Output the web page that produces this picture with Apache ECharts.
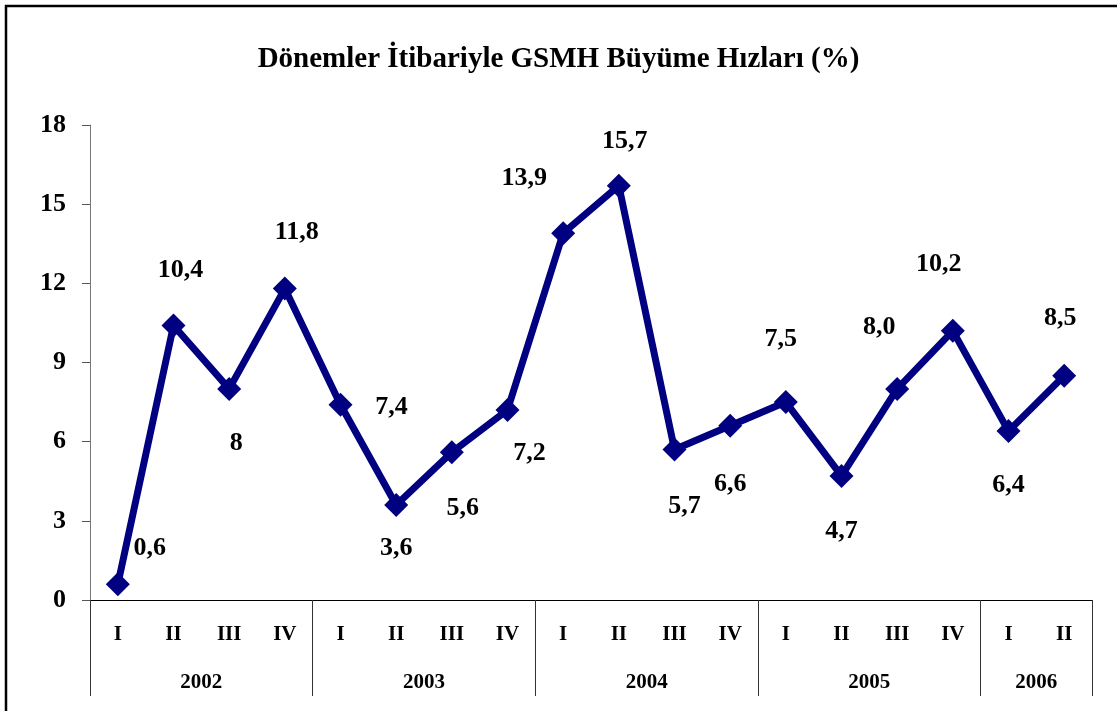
<!DOCTYPE html>
<html>
<head>
<meta charset="utf-8">
<script src="https://cdn.jsdelivr.net/npm/echarts@6/dist/echarts.min.js"></script>
<style>
  html, body { margin: 0; padding: 0; background: #fff; }
  #chart { width: 1117px; height: 711px; }
</style>
</head>
<body>
<div id="chart"></div>
<script>
// quarterly GNP growth rates, 2002 Q1 .. 2006 Q2
const quarters = ['I', 'II', 'III', 'IV', 'I', 'II', 'III', 'IV', 'I', 'II', 'III', 'IV', 'I', 'II', 'III', 'IV', 'I', 'II'];
const growth = [0.6, 10.4, 8, 11.8, 7.4, 3.6, 5.6, 7.2, 13.9, 15.7, 5.7, 6.6, 7.5, 4.7, 8.0, 10.2, 6.4, 8.5];
const valueLabels = ['0,6', '10,4', '8', '11,8', '7,4', '3,6', '5,6', '7,2', '13,9', '15,7', '5,7', '6,6', '7,5', '4,7', '8,0', '10,2', '6,4', '8,5'];
const years = ['2002', '2003', '2004', '2005', '2006'];
const yearSpans = [4, 4, 4, 4, 2];
const yTicks = [0, 3, 6, 9, 12, 15, 18];

// label offsets from each marker (px)
const labelOffsets = [
  [32, -36], [7, -55], [7, 54], [12, -56], [51, 3], [0, 43], [11, 56], [22, 43], [-39, -55],
  [6, -44], [10, 57], [0, 58], [-5, -63], [0, 55], [-18, -62], [-14, -67], [0, 54], [-4, -57]
];

const yearBounds = [0];
const yearCenters = [];
yearSpans.forEach((s, i) => {
  yearCenters.push(yearBounds[i] + s / 2);
  yearBounds.push(yearBounds[i] + s);
});

const font = '"Liberation Serif", "Times New Roman", serif';
const chart = echarts.init(document.getElementById('chart'));

chart.setOption({
  animation: false,
  title: {
    text: 'Dönemler İtibariyle GSMH Büyüme Hızları (%)',
    left: 'center',
    top: 40,
    textStyle: { fontFamily: font, fontSize: 29, fontWeight: 'bold', color: '#000' }
  },
  graphic: [
    { type: 'line', shape: { x1: 5, y1: 6, x2: 1117, y2: 6 }, style: { stroke: '#000', lineWidth: 2.5 } },
    { type: 'line', shape: { x1: 6, y1: 5, x2: 6, y2: 711 }, style: { stroke: '#000', lineWidth: 2.5 } }
  ],
  grid: { left: 90, right: 25, top: 125, bottom: 111 },
  xAxis: [
    {
      type: 'category',
      data: quarters,
      boundaryGap: true,
      axisLine: { lineStyle: { color: '#000', width: 1 } },
      axisTick: { interval: 0, length: 50, lineStyle: { color: '#333' } },
      axisLabel: {
        interval: 0, margin: 24,
        fontFamily: font, fontSize: 21, fontWeight: 'bold', color: '#000'
      }
    },
    {
      type: 'value',
      min: 0,
      max: 18,
      position: 'bottom',
      axisLine: { show: false },
      splitLine: { show: false },
      axisTick: { show: true, length: 96, customValues: yearBounds, lineStyle: { color: '#333' } },
      axisLabel: {
        margin: 72,
        customValues: yearCenters,
        formatter: (v) => years[yearCenters.indexOf(v)] || '',
        fontFamily: font, fontSize: 21, fontWeight: 'bold', color: '#000'
      }
    }
  ],
  yAxis: {
    type: 'value',
    min: 0,
    max: 18,
    interval: 3,
    axisLine: { show: true, lineStyle: { color: '#777' } },
    axisTick: { show: true, length: 8, lineStyle: { color: '#555' } },
    splitLine: { show: false },
    axisLabel: {
      margin: 24,
      fontFamily: font, fontSize: 26, fontWeight: 'bold', color: '#000',
      formatter: (v) => (yTicks.includes(v) ? String(v) : '')
    }
  },
  series: [{
    type: 'line',
    data: growth.map((v, i) => ({
      value: v,
      label: { offset: labelOffsets[i] }
    })),
    xAxisIndex: 0,
    symbol: 'diamond',
    symbolSize: 24,
    lineStyle: { color: '#000080', width: 7 },
    itemStyle: { color: '#000080' },
    label: {
      show: true,
      position: 'inside',
      formatter: (p) => valueLabels[p.dataIndex],
      fontFamily: font, fontSize: 26, fontWeight: 'bold', color: '#000'
    }
  }]
});
</script>
</body>
</html>
